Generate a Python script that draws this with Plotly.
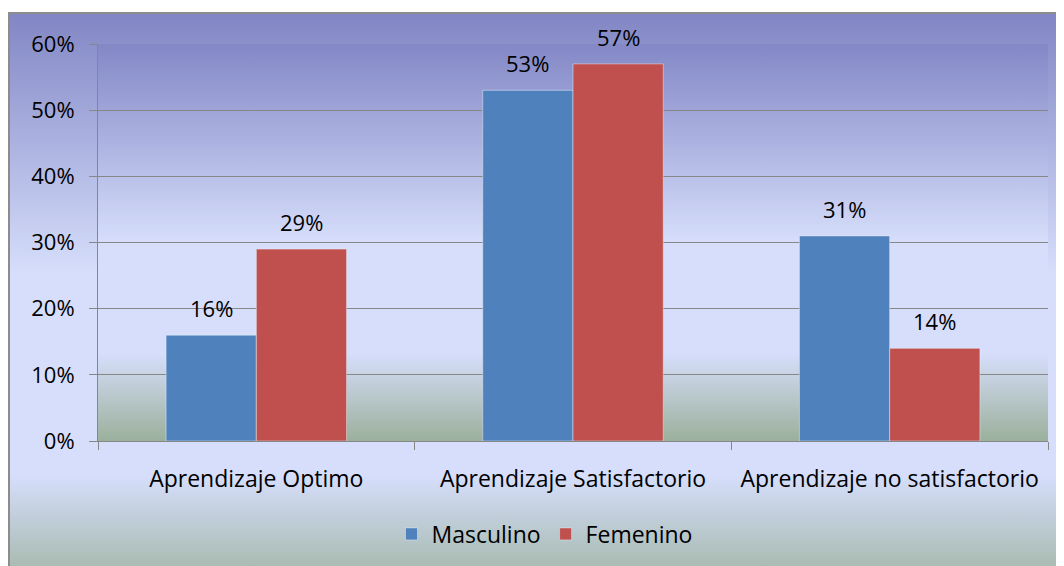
import base64
import plotly.graph_objects as go

categories = ["Aprendizaje Optimo", "Aprendizaje Satisfactorio", "Aprendizaje no satisfactorio"]
masculino = [0.16, 0.53, 0.31]
femenino = [0.29, 0.57, 0.14]

FONT = "Open Sans"
# page has an 8px body margin, so the figure is drawn at (8, 8)
W, H = 1056, 558
L, R, T, B = 90, 16, 36, 125
PW, PH = W - L - R, H - T - B


def gradient_svg(stops):
    parts = "".join(f'<stop offset="{o}" stop-color="{c}"/>' for o, c in stops)
    svg = (
        '<svg xmlns="http://www.w3.org/2000/svg" width="100" height="100" preserveAspectRatio="none">'
        f'<defs><linearGradient id="g" x1="0" y1="0" x2="0" y2="1">{parts}</linearGradient></defs>'
        '<rect width="100" height="100" fill="url(#g)"/></svg>'
    )
    return "data:image/svg+xml;base64," + base64.b64encode(svg.encode()).decode()


outer_bg = gradient_svg([(0, "#8186c4"), (0.45, "#d6defb"), (0.8, "#d6defb"), (1, "#9db29f")])
plot_bg = gradient_svg([(0, "#8388c6"), (0.5, "#d6defb"), (0.78, "#d6defb"), (1, "#9bb09b")])

fig = go.Figure()
fig.add_trace(go.Bar(x=categories, y=masculino, name="Masculino", marker_color="#4f81bd"))
fig.add_trace(go.Bar(x=categories, y=femenino, name="Femenino", marker_color="#c0504d"))

bargap = 0.43
bar_px = PW / len(categories) * (1 - bargap) / 2
annotations = []
for series, shift in ((masculino, -bar_px / 2), (femenino, bar_px / 2)):
    for cat, v in zip(categories, series):
        annotations.append(dict(
            x=cat, y=v, text=f"{v:.0%}", showarrow=False, xshift=shift, yshift=27,
            yanchor="middle", font=dict(size=22),
        ))

x0 = (1 - L) / PW
y0 = 1 + (T - 5) / PH
fig.update_layout(
    width=W, height=H,
    margin=dict(l=L, r=R, t=T, b=B, autoexpand=False),
    paper_bgcolor="white",
    plot_bgcolor="rgba(0,0,0,0)",
    font=dict(family=FONT, size=22, color="#000000"),
    barmode="group", bargap=bargap, bargroupgap=0,
    showlegend=True,
    annotations=annotations,
    legend=dict(orientation="h", x=0.47, xanchor="center", y=-0.18, yanchor="top",
                font=dict(size=23), bgcolor="rgba(0,0,0,0)", itemwidth=30),
    images=[
        dict(source=outer_bg, xref="paper", yref="paper", x=x0, y=y0,
             sizex=(W + 20) / PW, sizey=(H + 20) / PH,
             sizing="stretch", layer="below", xanchor="left", yanchor="top"),
        dict(source=plot_bg, xref="paper", yref="paper", x=0, y=1, sizex=1, sizey=1,
             sizing="stretch", layer="below", xanchor="left", yanchor="top"),
    ],
    shapes=[dict(type="rect", xref="paper", yref="paper", x0=x0, y0=y0 - (H + 20) / PH,
                 x1=x0 + (W + 20) / PW, y1=y0, line=dict(color="#8c8c8c", width=2),
                 layer="below")],
)
fig.update_yaxes(
    range=[0, 0.6], dtick=0.1, tickformat=".0%", showgrid=True, gridcolor="#878787",
    gridwidth=1, showline=True, linecolor="#878787", ticks="outside", ticklen=8,
    tickcolor="#878787", tickfont=dict(size=22), zeroline=False, ticklabelstandoff=10,
    automargin=False,
)
fig.update_xaxes(
    showline=True, linecolor="#878787", ticks="outside", ticklen=8, tickcolor="#878787",
    tickson="boundaries", tickfont=dict(size=23), ticklabelstandoff=17, automargin=False,
)

fig.write_html("out.html")
